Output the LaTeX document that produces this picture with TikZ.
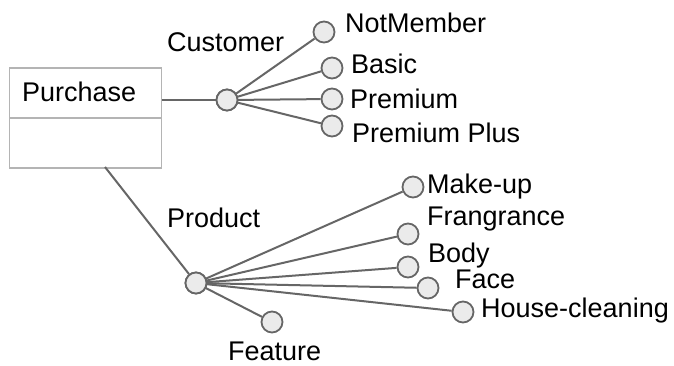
\documentclass[tikz,border=0pt]{standalone}
\usepackage{fontspec}
\setmainfont{Liberation Sans}
\definecolor{edgegray}{HTML}{666666}
\definecolor{fillgray}{HTML}{EBEBEB}
\definecolor{boxgray}{HTML}{B4B4B4}
\begin{document}
\begin{tikzpicture}[x=1pt,y=-1pt,
  attr/.style={circle,draw=edgegray,fill=fillgray,line width=1.8pt,minimum size=21pt,inner sep=0pt},
  link/.style={draw=edgegray,line width=2pt},
  compartment/.style={draw=boxgray,line width=1.8pt,minimum width=152pt,minimum height=50pt,anchor=north west,inner sep=0pt},
  lbl/.style={inner sep=0pt,anchor=base west,font=\fontsize{27}{32}\selectfont}]
\useasboundingbox (0,0) rectangle (674,365);

% entity box with its two compartments
\node[compartment] (purchaseTop) at (8.5,67) {};
\node[compartment] (purchaseBody) at (8.5,117) {};
\node[lbl] (purchaseName) at (22,101.5) {Purchase};

% customer hierarchy
\node[attr] (custhub) at (227,100) {};
\node[attr] (notmember) at (324,32) {};
\node[attr] (basic) at (332,68) {};
\node[attr] (premium) at (332,99) {};
\node[attr] (premplus) at (332,126) {};

\draw[link] (purchaseTop.east |- custhub) -- (custhub);
\foreach \t in {notmember,basic,premium,premplus}
  \draw[link] (custhub.center) -- (\t);
\node[attr] at (custhub) {};

\node[lbl] (custlbl) at (167,51) {Customer};
\node[lbl] (nmlbl) at (345,32) {NotMember};
\node[lbl] (basiclbl) at (351,73) {Basic};
\node[lbl] (premlbl) at (350,108) {Premium};
\node[lbl] (pplbl) at (352,142) {Premium Plus};

% product hierarchy
\coordinate (pstart) at (105,167);
\node[attr] (prodhub) at (196,283) {};
\node[attr] (makeup) at (413,187) {};
\node[attr] (fragrance) at (408,234) {};
\node[attr] (body) at (408,267) {};
\node[attr] (face) at (428,288) {};
\node[attr] (house) at (463,312) {};
\node[attr] (feature) at (272,322) {};

\draw[link] (pstart) -- (prodhub);
\foreach \t in {makeup,fragrance,body,face,house,feature}
  \draw[link] (prodhub.center) -- (\t);
\node[attr] at (prodhub) {};

\node[lbl] (prodlbl) at (167,227) {Product};
\node[lbl] (mulbl) at (427,193) {Make-up};
\node[lbl] (frlbl) at (427,225) {Frangrance};
\node[lbl] (bodylbl) at (428,262) {Body};
\node[lbl] (facelbl) at (455,288) {Face};
\node[lbl] (houselbl) at (481,317) {House-cleaning};
\node[lbl] (featlbl) at (228,360) {Feature};
\end{tikzpicture}
\end{document}
